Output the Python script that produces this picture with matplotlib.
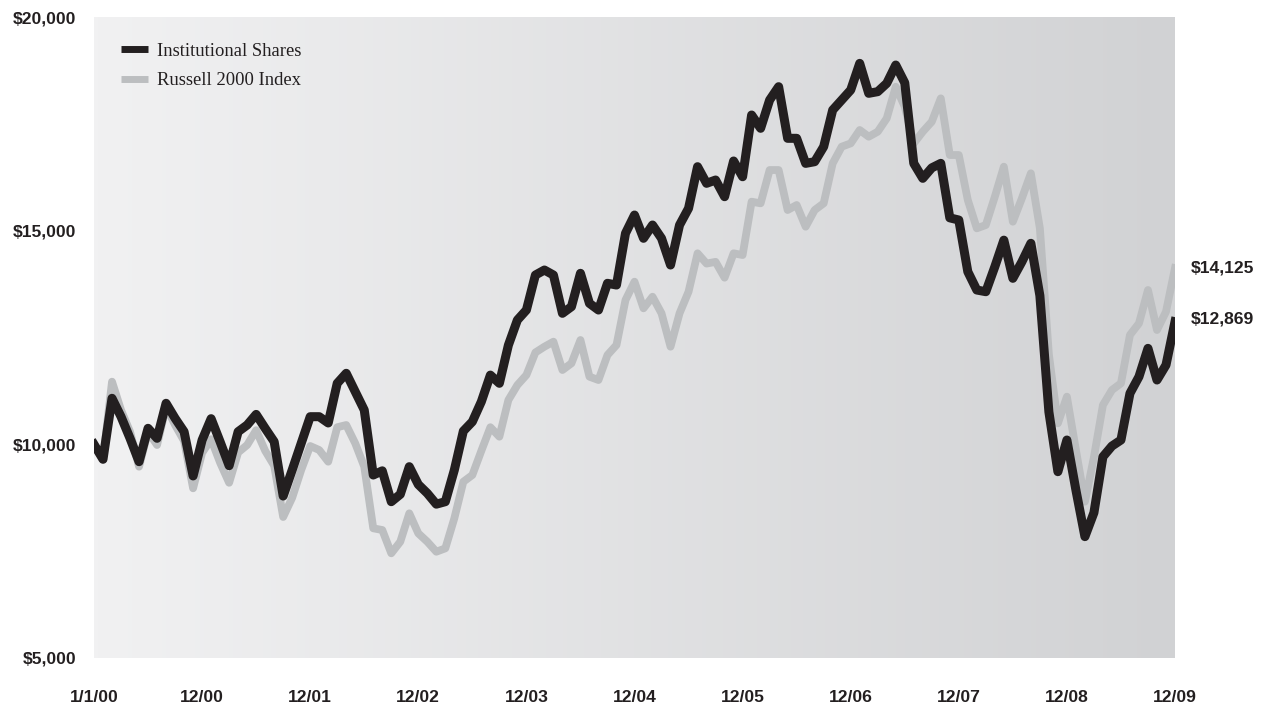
import matplotlib
matplotlib.use('Agg')
import matplotlib.pyplot as plt
from matplotlib.colors import LinearSegmentedColormap
from matplotlib.lines import Line2D
import numpy as np

# growth of a $10,000 investment, month-end values 1/1/00 .. 12/09
institutional = [
    10000, 9650, 11077, 10647, 10141, 9594, 10375, 10141, 10960, 10609,
    10296, 9260, 10100, 10600, 10060, 9500, 10296, 10452, 10700, 10375,
    10062, 8790, 9400, 10024, 10647, 10647, 10500, 11428, 11662, 11232,
    10803, 9282, 9380, 8658, 8830, 9477, 9060, 8854, 8600, 8658,
    9399, 10310, 10530, 11000, 11620, 11428, 12320, 12909, 13143, 13962,
    14079, 13962, 13066, 13221, 14002, 13299, 13143, 13768, 13728, 14938,
    15366, 14821, 15132, 14821, 14196, 15132, 15523, 16497, 16108, 16185,
    15795, 16630, 16262, 17706, 17395, 18057, 18369, 17161, 17161, 16575,
    16614, 16965, 17823, 18057, 18291, 18915, 18214, 18253, 18448, 18876,
    18460, 16575, 16225, 16470, 16575, 15300, 15249, 14040, 13611, 13572,
    14157, 14778, 13885, 14270, 14704, 13480, 10760, 9360, 10101, 8931,
    7840, 8400, 9710, 9960, 10101, 11193, 11583, 12246, 11505, 11856,
    12869,
]

russell = [
    10000, 9650, 11466, 10803, 10296, 9477, 10296, 9984, 10881, 10452,
    10080, 8971, 9800, 10120, 9570, 9100, 9810, 9984, 10330, 9850,
    9500, 8300, 8750, 9400, 9960, 9867, 9594, 10400, 10452, 10023,
    9477, 8035, 7995, 7450, 7721, 8386, 7917, 7721, 7487, 7566,
    8269, 9125, 9282, 9850, 10400, 10179, 11037, 11388, 11622, 12150,
    12285, 12402, 11739, 11896, 12441, 11583, 11505, 12090, 12324, 13377,
    13806, 13183, 13454, 13066, 12285, 13066, 13572, 14470, 14230, 14270,
    13900, 14470, 14430, 15678, 15640, 16419, 16419, 15483, 15600, 15093,
    15483, 15640, 16575, 16965, 17043, 17355, 17199, 17316, 17628, 18369,
    17900, 17043, 17316, 17550, 18096, 16770, 16770, 15717, 15055, 15132,
    15795, 16497, 15210, 15756, 16342, 15055, 12100, 10492, 11115, 9867,
    8658, 9700, 10920, 11271, 11428, 12560, 12831, 13611, 12675, 13104,
    14125,
]

tick_labels = ['1/1/00', '12/00', '12/01', '12/02', '12/03', '12/04',
               '12/05', '12/06', '12/07', '12/08', '12/09']
y_ticks = [5000, 10000, 15000, 20000]

DARK = '#231f20'
GREY = '#bcbec0'
LABEL_FONT = dict(fontfamily='Liberation Sans', fontweight='bold',
                  fontsize=12.6, color=DARK)

months = np.arange(len(institutional))

fig = plt.figure(figsize=(12.62, 7.06), dpi=100)
ax = fig.add_axes([94 / 1262, 48 / 706, 1081 / 1262, 641 / 706])

# light-to-dark grey wash behind the lines
bg = LinearSegmentedColormap.from_list('wash', ['#f1f1f2', '#d1d2d4'])
ax.imshow(np.linspace(0, 1, 256).reshape(1, -1), cmap=bg, aspect='auto',
          extent=[0, 120, 5000, 20000], zorder=0)

ax.plot(months, russell, color=GREY, lw=5.6, zorder=2)
ax.plot(months, institutional, color=DARK, lw=6.5, zorder=3)

ax.set_xlim(0, 120)
ax.set_ylim(5000, 20000)

ax.set_xticks(np.arange(0, 121, 12))
ax.set_xticklabels(tick_labels)
ax.set_yticks(y_ticks)
ax.set_yticklabels(['${:,}'.format(v) for v in y_ticks])
for lbl in ax.get_xticklabels() + ax.get_yticklabels():
    lbl.set_fontfamily('Liberation Sans')
    lbl.set_fontweight('bold')
    lbl.set_fontsize(12.6)
    lbl.set_color(DARK)
ax.tick_params(axis='x', length=0, pad=23)
ax.tick_params(axis='y', length=0, pad=13)
for s in ax.spines.values():
    s.set_visible(False)

# end values
ax.annotate('${:,}'.format(russell[-1]), (months[-1], russell[-1]),
            xytext=(11, 0), textcoords='offset points', va='center', ha='left',
            annotation_clip=False, **LABEL_FONT)
ax.annotate('${:,}'.format(institutional[-1]), (months[-1], institutional[-1]),
            xytext=(11, 2), textcoords='offset points', va='center', ha='left',
            annotation_clip=False, **LABEL_FONT)

handles = [Line2D([], [], color=DARK, lw=5, solid_capstyle='butt'),
           Line2D([], [], color=GREY, lw=5, solid_capstyle='butt')]
leg = ax.legend(handles, ['Institutional Shares', 'Russell 2000 Index'],
                loc='upper left', bbox_to_anchor=(0.025, 0.960),
                frameon=False, borderpad=0, borderaxespad=0,
                handlelength=1.45, handletextpad=0.5, labelspacing=0.68,
                prop={'family': 'Liberation Serif', 'size': 13.4})
for t in leg.get_texts():
    t.set_color(DARK)

fig.savefig('out.png', dpi=100)
